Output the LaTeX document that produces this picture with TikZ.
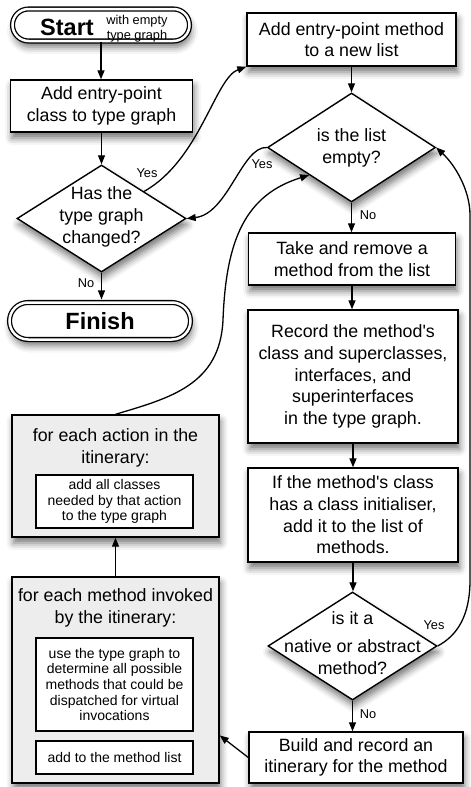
\documentclass[tikz,border=0pt]{standalone}
\usepackage{fontspec}
\setmainfont{Liberation Sans}
\usetikzlibrary{shapes.geometric,shapes.misc,arrows.meta,shadows.blur}
\newcommand\mainsz{\fontsize{17.8}{21.7}\selectfont}
\newcommand\smallsz{\fontsize{14}{15.7}\selectfont}
\newcommand\tinysz{\fontsize{12.8}{14.4}\selectfont}
\newcommand\lblsz{\fontsize{12.8}{14}\selectfont}
\newcommand\bigsz{\fontsize{23.5}{26}\selectfont\bfseries}
\begin{document}
\begin{tikzpicture}[x=1pt,y=-1pt,
  shad/.style={blur shadow={shadow xshift=1.5pt, shadow yshift=-6pt, shadow blur radius=7pt, shadow opacity=55}},
  box/.style={draw, line width=1.4pt, fill=white, inner sep=0pt, align=center, font=\mainsz, shad},
  gbox/.style={draw, line width=1.4pt, fill=black!7, inner sep=0pt, shad},
  inbox/.style={draw, line width=1.2pt, fill=white, inner sep=0pt, align=center, font=\smallsz},
  decision/.style={diamond, draw, line width=1.4pt, fill=white, inner sep=0pt, shad},
  term/.style={rounded rectangle, draw, fill=white, line width=1.3pt, double, double distance=2.5pt, inner sep=0pt, shad},
  txt/.style={align=center, inner sep=0pt, font=\mainsz},
  lbl/.style={inner sep=0pt, font=\lblsz},
  conn/.style={line width=1.3pt, -{Triangle[length=9pt,width=7pt]}},
]
\useasboundingbox (0,0) rectangle (471,787);

% left column
\node[term, minimum width=177pt, minimum height=32pt] (start) at (101,25) {};
\node[inner sep=0pt, font=\bigsz, anchor=base] (startword) at (67,35.5) {Start};
\node[inner sep=0pt, align=center, font=\tinysz] (startnote) at (137,28.5) {with empty\\type graph};

\node[box, minimum width=182pt, minimum height=52pt] (addclass) at (101.5,106) {Add entry-point\\class to type graph};

\node[decision, minimum width=169pt, minimum height=107pt] (changed) at (101.5,218.5) {};
\node[txt] (changedtxt) at (101.5,217) {Has the\\type graph\\changed?};

\node[term, minimum width=181pt, minimum height=37pt] (finish) at (100,321) {};
\node[inner sep=0pt, font=\bigsz] (finishword) at (100,321) {Finish};

\node[gbox, minimum width=207pt, minimum height=122pt] (g1) at (115.5,476) {};
\node[txt] (g1title) at (115.5,448) {for each action in the\\itinerary:};
\node[inbox, minimum width=157pt, minimum height=53pt] (g1in) at (114.5,501.5) {add all classes\\needed by that action\\to the type graph};

\node[gbox, minimum width=207pt, minimum height=206pt] (g2) at (115.5,680) {};
\node[txt] (g2title) at (115.5,608) {for each method invoked\\by the itinerary:};
\node[inbox, minimum width=157pt, minimum height=93pt] (g2ina) at (114.5,684.5) {use the type graph to\\determine all possible\\methods that could be\\dispatched for virtual\\invocations};
\node[inbox, minimum width=157pt, minimum height=33pt] (g2inb) at (114.5,757.5) {add to the method list};

% right column
\node[box, minimum width=209pt, minimum height=53pt] (addmethod) at (351.5,39.5) {Add entry-point method\\to a new list};
\node[decision, minimum width=168pt, minimum height=109pt] (le) at (351.5,147.5) {};
\node[txt] (letxt) at (351.5,148) {is the list\\empty?};
\node[box, minimum width=207pt, minimum height=52pt] (take) at (352,259) {Take and remove a\\method from the list};
\node[box, minimum width=210pt, minimum height=133pt] (record) at (353,376.5) {Record the method\textquotesingle s\\class and superclasses,\\interfaces, and\\superinterfaces\\in the type graph.};
\node[box, minimum width=210pt, minimum height=94pt] (init) at (353,515) {If the method\textquotesingle s class\\has a class initialiser,\\add it to the list of\\methods.};
\node[decision, minimum width=169pt, minimum height=108pt] (nat) at (352.5,646) {};
\node[txt] (nattxt) at (352.5,643) {is it a\\[7pt]native or abstract\\method?};
\node[box, minimum width=214pt, minimum height=51pt] (build) at (356,757.5) {Build and record an\\itinerary for the method};

% connectors
\draw[conn] (start.south) -- (start.south |- addclass.north);
\draw[conn] (addclass.south) -- (changed.north);
\draw[conn, shorten >=2.4pt] (changed.south) -- (changed.south |- finish.north);
\node[lbl] (noa) at (86,283) {No};
\draw[conn] (changed.north east) .. controls (200,160) and (215,78) .. (addmethod.south west);
\node[lbl] (yesa) at (147,173) {Yes};

\draw[conn] (addmethod.south) -- (addmethod.south |- le.north);
\draw[conn] (le.south) -- (le.south |- take.north);
\node[lbl] (nob) at (368,215) {No};
\draw[conn] (le.west) .. controls (242,146) and (228,214) .. (changed.east);
\node[lbl] (yesb) at (262,164) {Yes};

\draw[conn] (take.south) -- (take.south |- record.north);
\draw[conn] (record.south) -- (record.south |- init.north);
\draw[conn] (init.south) -- (init.south |- nat.north);
\draw[conn] (nat.south) -- (nat.south |- build.north);
\node[lbl] (noc) at (368,714) {No};
\draw[conn] (nat.east) .. controls (458,635) and (470,615) .. (470,580) -- (470,215) .. controls (470,190) and (455,165) .. (le.east);
\node[lbl] (yesc) at (434,625) {Yes};

\draw[conn] (build.west) -- (g2.-28);
\draw[conn] (g2.north) -- (g1.south);
\draw[conn] (g1.north) .. controls (170,398) and (220,385) .. (223,320) .. controls (226,240) and (245,195) .. (le.south west);
\end{tikzpicture}
\end{document}
